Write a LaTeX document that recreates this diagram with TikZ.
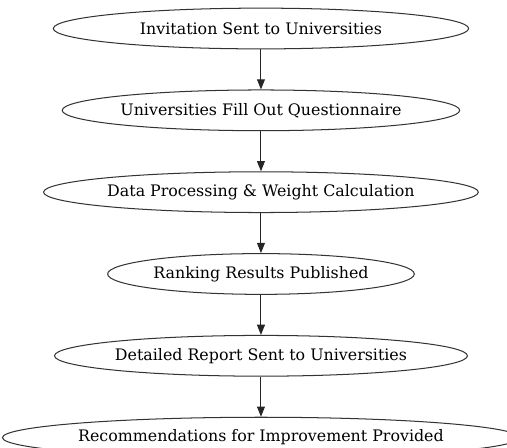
\documentclass[tikz,border=0pt]{standalone}
\usepackage{fontspec}
\setmainfont{DejaVu Serif}
\usetikzlibrary{positioning,shapes.geometric,arrows.meta}

\begin{document}
\begin{tikzpicture}[stage/.style={ellipse,draw=black!80,line width=0.9pt,
    minimum height=36pt,inner sep=0pt,font=\fontsize{14}{16}\selectfont},
  flow/.style={-{Triangle[length=9pt,width=7pt]},draw=black!85,line width=0.9pt}]

  \def\vd{35.4pt}
  \useasboundingbox (-230.6pt,-369.8pt) rectangle (217.4pt,25.2pt);

  \node[stage,minimum width=367pt] (inv) at (0,0) {Invitation Sent to Universities};
  \node[stage,minimum width=348pt,below=\vd of inv] (fill) {Universities Fill Out Questionnaire};
  \node[stage,minimum width=376pt,below=\vd of fill] (proc) {Data Processing \& Weight Calculation};
  \node[stage,minimum width=271pt,below=\vd of proc] (rank) {Ranking Results Published};
  \node[stage,minimum width=362pt,below=\vd of rank] (report) {Detailed Report Sent to Universities};
  \node[stage,minimum width=444pt,below=\vd of report] (recom) {Recommendations for Improvement Provided};

  \draw[flow] (inv) -- (fill);
  \draw[flow] (fill) -- (proc);
  \draw[flow] (proc) -- (rank);
  \draw[flow] (rank) -- (report);
  \draw[flow] (report) -- (recom);

\end{tikzpicture}
\end{document}
